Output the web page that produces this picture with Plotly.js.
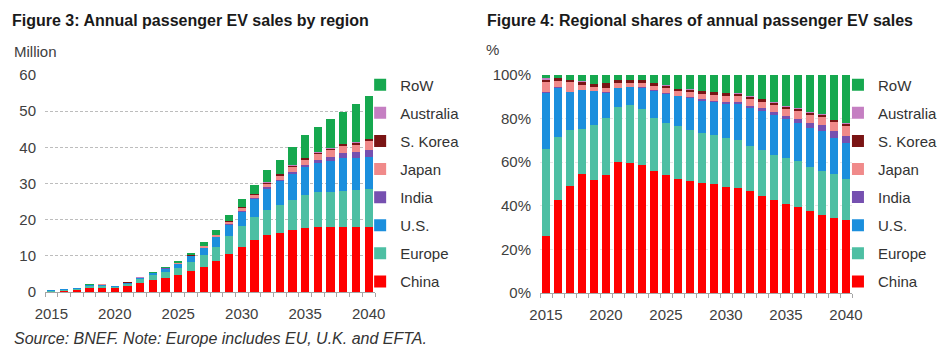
<!DOCTYPE html>
<html>
<head>
<meta charset="utf-8">
<script src="https://cdn.plot.ly/plotly-3.0.1.min.js"></script>
<style>
  html, body { margin:0; padding:0; background:#fff; }
  #wrap { position:relative; width:941px; height:350px; overflow:hidden; }
  #left { position:absolute; left:0; top:0; width:470px; height:350px; }
  #right { position:absolute; left:470px; top:0; width:471px; height:350px; }
</style>
</head>
<body>
<div id="wrap"><div id="left"></div><div id="right"></div></div>
<script>
// ---- data (million passenger EVs sold per year) ----
const years = [2015,2016,2017,2018,2019,2020,2021,2022,2023,2024,2025,2026,2027,2028,2029,2030,2031,2032,2033,2034,2035,2036,2037,2038,2039,2040];
const yearLabels = [2015,2020,2025,2030,2035,2040];
const china = [0.13,0.32,0.59,1.15,1.14,0.97,1.62,2.44,3.22,3.91,4.62,5.68,7.01,8.60,10.60,12.49,14.27,15.76,16.29,17.04,17.67,18.00,18.00,17.90,18.00,18.10];
const europe = [0.20,0.22,0.31,0.43,0.56,0.47,0.68,1.10,1.42,1.70,2.00,2.68,3.22,3.93,4.81,5.73,6.51,6.92,7.69,8.36,9.22,9.64,9.65,10.03,10.32,10.26];
const us = [0.13,0.17,0.21,0.38,0.34,0.21,0.23,0.33,0.53,0.88,1.15,1.47,2.00,2.57,3.14,4.02,4.82,5.88,6.66,7.32,7.66,8.08,8.69,9.18,8.75,9.01];
const india = [0.001,0.001,0.002,0.002,0.002,0.004,0.005,0.008,0.011,0.021,0.034,0.044,0.069,0.103,0.148,0.205,0.266,0.336,0.403,0.52,0.65,0.83,1.06,1.30,1.56,1.86];
const japan = [0.025,0.023,0.053,0.044,0.037,0.031,0.059,0.082,0.121,0.147,0.187,0.207,0.315,0.428,0.594,0.717,0.829,0.974,1.098,1.20,1.39,1.56,1.78,1.90,2.08,2.46];
const korea = [0.004,0.008,0.012,0.032,0.035,0.041,0.038,0.049,0.061,0.084,0.085,0.109,0.137,0.188,0.233,0.282,0.326,0.370,0.366,0.40,0.43,0.46,0.48,0.50,0.47,0.49];
const australia = [0.003,0.002,0.004,0.004,0.004,0.004,0.005,0.008,0.011,0.014,0.026,0.033,0.041,0.051,0.064,0.077,0.089,0.101,0.146,0.16,0.17,0.18,0.19,0.20,0.21,0.22];
const row = [0.008,0.010,0.025,0.061,0.086,0.065,0.057,0.086,0.121,0.252,0.408,0.676,0.904,1.231,1.611,2.074,2.486,3.259,3.953,5.00,6.11,6.98,8.06,8.88,10.63,11.90];

const seriesNames = ['China','Europe','U.S.','India','Japan','S. Korea','Australia','RoW'];
const seriesData = [china, europe, us, india, japan, korea, australia, row];
const seriesColors = ['#FF0000','#4DBFA3','#1B8FDD','#7650B0','#F08A8A','#7A1414','#C57FC2','#16A84F'];

const FONT = 'Liberation Sans, Arial, sans-serif';

function traces() {
  return seriesNames.map((n, i) => ({
    type: 'bar', x: years, y: seriesData[i], name: n,
    legendgroup: n,
    legendrank: 1000 - i,
    marker: { color: seriesColors[i], line: { width: 0 } },
    hoverinfo: 'x+y+name'
  }));
}

function baseLayout(w, m) {
  return {
    width: w, height: 350,
    margin: Object.assign({ autoexpand: false }, m),
    barmode: 'stack',
    paper_bgcolor: '#fff', plot_bgcolor: '#fff',
    font: { family: FONT, size: 15, color: '#404040' },
    showlegend: true,
    legend: {
      x: 0.955, xanchor: 'left', y: 1.03, yanchor: 'top',
      traceorder: 'grouped', tracegroupgap: 5.6,
      maxheight: 340,
      font: { family: FONT, size: 15, color: '#333' },
      bgcolor: 'rgba(0,0,0,0)', itemwidth: 30
    },
    xaxis: {
      range: [2014.5, 2040.5],
      tickmode: 'array', tickvals: yearLabels, ticktext: yearLabels.map(String),
      ticks: '', showgrid: false, zeroline: false,
      showline: true, linecolor: '#A6A6A6', linewidth: 1,
      ticklabelstandoff: 8,
      tickfont: { family: FONT, size: 15, color: '#404040' },
      minor: { tickmode: 'linear', tick0: 2014.5, dtick: 1, ticks: 'outside', ticklen: 4, tickcolor: '#A6A6A6', showgrid: false },
      fixedrange: true
    }
  };
}

// ---- left: absolute sales ----
const L = baseLayout(470, { l: 45, r: 95, t: 75, b: 58 });
L.bargap = 0.35;
L.title = { text: '<b>Figure 3: Annual passenger EV sales by region</b>', x: 12/470, xanchor: 'left', y: 1 - 20/350, yanchor: 'middle', font: { family: FONT, size: 16, color: '#1a1a1a' } };
L.yaxis = {
  range: [0, 60], tickmode: 'linear', tick0: 0, dtick: 10,
  showgrid: true, gridcolor: '#BDBDBD', griddash: '3px,2px', gridwidth: 1,
  zeroline: false, showline: false, ticks: '', ticklabelstandoff: 8,
  tickfont: { family: FONT, size: 15, color: '#404040' }, fixedrange: true
};
L.annotations = [
  { text: 'Million', xref: 'paper', yref: 'paper', x: -33/330, y: (292-52)/217, xanchor: 'left', yanchor: 'middle', showarrow: false, font: { family: FONT, size: 15, color: '#404040' } },
  { text: '<i>Source: BNEF. Note: Europe includes EU, U.K. and EFTA.</i>', xref: 'paper', yref: 'paper', x: -33/330, y: (292-338)/217, xanchor: 'left', yanchor: 'middle', showarrow: false, font: { family: FONT, size: 16, color: '#333' } }
];
Plotly.newPlot('left', traces(), L, { displayModeBar: false, staticPlot: true });

// ---- right: regional shares (normalised by the library) ----
const R = baseLayout(471, { l: 70, r: 89, t: 75, b: 57 });
R.bargap = 0.3;
R.barnorm = 'percent';
R.title = { text: '<b>Figure 4: Regional shares of annual passenger EV sales</b>', x: 17/471, xanchor: 'left', y: 1 - 20/350, yanchor: 'middle', font: { family: FONT, size: 16, color: '#1a1a1a' } };
R.yaxis = {
  range: [0, 100], tickmode: 'linear', tick0: 0, dtick: 20, ticksuffix: '%',
  showgrid: true, gridcolor: '#E6E6E6', griddash: '3px,2px', gridwidth: 1,
  zeroline: false, showline: false, ticks: '', ticklabelstandoff: 8,
  tickfont: { family: FONT, size: 15, color: '#404040' }, fixedrange: true
};
R.annotations = [
  { text: '%', xref: 'paper', yref: 'paper', x: -56/312, y: (293-50)/218, xanchor: 'left', yanchor: 'middle', showarrow: false, font: { family: FONT, size: 15, color: '#404040' } }
];
Plotly.newPlot('right', traces(), R, { displayModeBar: false, staticPlot: true });
</script>
</body>
</html>
